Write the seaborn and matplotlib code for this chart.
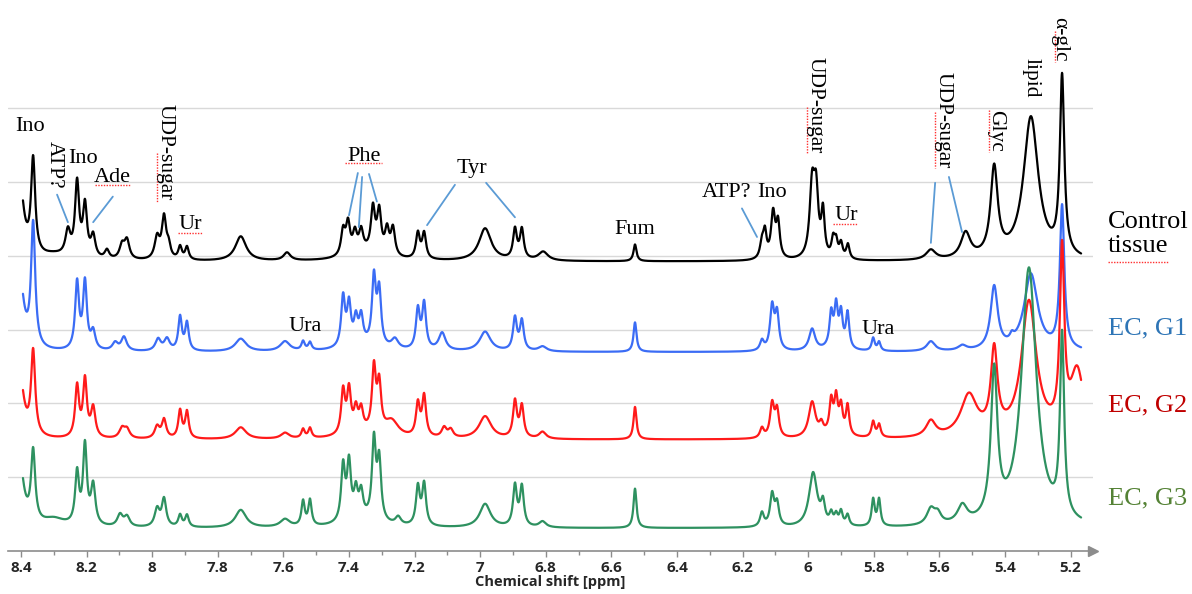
import numpy as np
import pandas as pd
import matplotlib
matplotlib.use("Agg")
import matplotlib.pyplot as plt
from matplotlib.ticker import MultipleLocator, FuncFormatter
import seaborn as sns

# ---------------- data ----------------
SAMPLES = ["Control tissue", "EC, G1", "EC, G2", "EC, G3"]
OFFSETS = [294, 202, 113, 23]          # vertical stacking offset of each trace (a.u.)
LINE_COLORS = ["#000000", "#3b6cf5", "#ff1a1a", "#2e9160"]
LABEL_COLORS = ["#000000", "#2e75b6", "#c00000", "#548235"]
LABEL_TEXT = ["Control\ntissue", "EC, G1", "EC, G2", "EC, G3"]

PPM_RANGE = (8.394, 5.168)

# peak lists: centre (ppm), height (a.u.), full width at half height (ppm)
CONTROL_PPM = [8.405, 8.363, 8.30, 8.257, 8.229, 8.205, 8.180, 8.138, 8.092, 8.077,
               7.985, 7.964, 7.950, 7.915, 7.894, 7.73, 7.589,
               7.418, 7.403, 7.382, 7.363, 7.327, 7.308, 7.284, 7.266, 7.35,
               7.190, 7.171, 6.985, 6.894, 6.873, 6.808, 6.528,
               6.141, 6.132, 6.107, 6.092, 5.988, 5.976, 5.955,
               5.924, 5.915, 5.900, 5.879, 5.626, 5.52, 5.433, 5.321, 5.226]
CONTROL_H = [85, 96, 5, 25, 75, 52, 22, 9, 14, 19,
             22, 42, 12, 13, 13, 25, 8,
             25, 31, 20, 21, 44, 42, 25, 28, 8,
             26, 26, 33, 30, 30, 9, 17,
             16, 25, 46, 35, 72, 62, 45,
             18, 16, 15, 15, 10, 26, 90, 145, 180]
CONTROL_W = [0.03, 0.015, 0.1, 0.018, 0.015, 0.015, 0.016, 0.016, 0.018, 0.018,
             0.018, 0.016, 0.014, 0.013, 0.013, 0.04, 0.025,
             0.015, 0.015, 0.015, 0.015, 0.015, 0.015, 0.015, 0.015, 0.12,
             0.014, 0.014, 0.045, 0.014, 0.014, 0.035, 0.011,
             0.014, 0.012, 0.015, 0.013, 0.018, 0.016, 0.012,
             0.012, 0.012, 0.012, 0.012, 0.035, 0.035, 0.026, 0.055, 0.016]

G1_PPM = [8.405, 8.363, 8.229, 8.205, 8.180, 8.113, 8.086, 7.982, 7.955, 7.915, 7.894,
          7.73, 7.595, 7.540, 7.519, 7.418, 7.400, 7.379, 7.363, 7.324, 7.308, 7.36,
          7.26, 7.190, 7.171, 7.116, 6.985, 6.894, 6.873, 6.81, 6.528,
          6.141, 6.110, 6.095, 5.988, 5.930, 5.915, 5.900, 5.880, 5.92,
          5.802, 5.784, 5.626, 5.53, 5.433, 5.379, 5.321, 5.226]
G1_H = [80, 125, 68, 68, 18, 8, 14, 12, 12, 34, 28,
        13, 10, 9, 8, 50, 41, 25, 27, 68, 55, 6,
        10, 40, 46, 18, 20, 33, 30, 5, 30,
        10, 44, 36, 22, 32, 38, 33, 36, 6,
        13, 9, 10, 5, 64, 6, 78, 145]
G1_W = [0.03, 0.015, 0.014, 0.014, 0.016, 0.02, 0.02, 0.02, 0.02, 0.013, 0.013,
        0.04, 0.035, 0.012, 0.012, 0.014, 0.014, 0.014, 0.014, 0.014, 0.014, 0.12,
        0.025, 0.014, 0.014, 0.025, 0.04, 0.014, 0.014, 0.03, 0.011,
        0.014, 0.015, 0.014, 0.022, 0.012, 0.012, 0.012, 0.012, 0.05,
        0.011, 0.011, 0.03, 0.03, 0.026, 0.014, 0.05, 0.016]

G2_PPM = [8.405, 8.363, 8.229, 8.205, 8.180, 8.092, 8.077, 7.985, 7.964, 7.915, 7.894,
          7.73, 7.595, 7.540, 7.519, 7.418, 7.400, 7.379, 7.363, 7.324, 7.308, 7.36,
          7.27, 7.190, 7.171, 7.11, 7.09, 6.985, 6.894, 6.873, 6.81, 6.528,
          6.141, 6.110, 6.095, 5.988, 5.96, 5.930, 5.915, 5.900, 5.880, 5.92,
          5.802, 5.784, 5.626, 5.51, 5.433, 5.327, 5.226, 5.18]
G2_H = [70, 85, 52, 58, 30, 10, 9, 12, 19, 28, 27,
        12, 6, 9, 10, 44, 43, 22, 21, 64, 47, 6,
        16, 33, 41, 10, 8, 23, 37, 32, 7, 33,
        10, 34, 27, 36, 10, 30, 32, 26, 30, 8,
        16, 13, 16, 42, 83, 137, 178, 65]
G2_W = [0.03, 0.015, 0.014, 0.014, 0.016, 0.02, 0.02, 0.018, 0.016, 0.013, 0.013,
        0.04, 0.03, 0.012, 0.012, 0.014, 0.014, 0.014, 0.014, 0.014, 0.014, 0.12,
        0.05, 0.014, 0.014, 0.018, 0.018, 0.045, 0.014, 0.014, 0.025, 0.011,
        0.014, 0.015, 0.014, 0.025, 0.014, 0.012, 0.012, 0.012, 0.012, 0.05,
        0.012, 0.012, 0.035, 0.06, 0.024, 0.055, 0.016, 0.05]

G3_PPM = [8.405, 8.363, 8.30, 8.229, 8.205, 8.180, 8.098, 8.077, 7.985, 7.964, 7.915, 7.894,
          7.73, 7.595, 7.540, 7.519, 7.418, 7.400, 7.379, 7.363, 7.324, 7.308, 7.36,
          7.25, 7.190, 7.171, 6.985, 6.894, 6.873, 6.81, 6.528,
          6.141, 6.110, 6.095, 5.985, 5.955, 5.930, 5.915, 5.900, 5.880,
          5.802, 5.784, 5.626, 5.605, 5.53, 5.433, 5.327, 5.226]
G3_H = [70, 72, 8, 52, 80, 40, 12, 10, 18, 28, 12, 12,
        18, 8, 25, 26, 56, 57, 27, 25, 80, 60, 8,
        8, 39, 42, 24, 41, 40, 6, 40,
        14, 32, 22, 55, 20, 11, 10, 14, 11,
        27, 27, 16, 10, 18, 150, 262, 183]
G3_W = [0.03, 0.015, 0.08, 0.014, 0.014, 0.016, 0.02, 0.02, 0.018, 0.016, 0.013, 0.013,
        0.04, 0.035, 0.012, 0.012, 0.014, 0.014, 0.014, 0.014, 0.014, 0.014, 0.12,
        0.02, 0.014, 0.014, 0.04, 0.014, 0.014, 0.025, 0.011,
        0.014, 0.015, 0.014, 0.03, 0.014, 0.012, 0.012, 0.012, 0.012,
        0.011, 0.011, 0.03, 0.025, 0.035, 0.024, 0.055, 0.015]

PEAKS = [(CONTROL_PPM, CONTROL_H, CONTROL_W), (G1_PPM, G1_H, G1_W),
         (G2_PPM, G2_H, G2_W), (G3_PPM, G3_H, G3_W)]

# annotations: (text, ppm, intensity, rotation)
ANNOTATIONS = [("Ino", 8.373, 431, 0), ("ATP?", 8.299, 392, 270), ("Ino", 8.211, 399, 0),
               ("Ade", 8.123, 379, 0), ("UDP-sugar", 7.961, 405, 270), ("Ur", 7.885, 332, 0),
               ("Phe", 7.354, 401, 0), ("Tyr", 7.025, 389, 0), ("Ura", 7.534, 228, 0),
               ("Fum", 6.528, 327, 0), ("ATP?", 6.248, 364, 0), ("Ino", 6.110, 364, 0),
               ("UDP-sugar", 5.979, 453, 270), ("Ur", 5.885, 341, 0), ("Ura", 5.787, 225, 0),
               ("UDP-sugar", 5.589, 438, 270), ("Glyc", 5.430, 427, 270),
               ("lipid", 5.321, 481, 270), ("α-glc", 5.232, 520, 270)]
# leader lines (ppm0, y0, ppm1, y1)
LEADERS = [(8.290, 362, 8.257, 334), (8.120, 360, 8.180, 334),
           (7.373, 384, 7.400, 341), (7.360, 380, 7.370, 329), (7.339, 383, 7.315, 355),
           (7.077, 372, 7.162, 331), (6.982, 374, 6.894, 339),
           (6.202, 348, 6.156, 319), (5.613, 374, 5.626, 313), (5.571, 380, 5.531, 324)]
# red spell-check squiggles seen under some words (ppm0, y0, ppm1, y1)
SQUIGGLES = [(8.174, 372, 8.068, 372), (7.921, 323, 7.848, 323), (7.412, 394, 7.299, 394),
             (5.924, 332, 5.848, 332), (5.086, 294, 4.903, 294),
             (7.985, 404, 7.985, 355), (6.004, 451, 6.004, 404), (5.613, 446, 5.613, 389),
             (5.449, 448, 5.449, 405), (5.248, 528, 5.248, 497)]
LABEL_Y = [322, 226, 148, 53]
LABEL_PPM = 5.086

# ---------------- build long-form table ----------------
ppm = np.linspace(PPM_RANGE[0], PPM_RANGE[1], 4000)
frames = []
for name, off, (c, h, w) in zip(SAMPLES, OFFSETS, PEAKS):
    c = np.asarray(c)[:, None]
    h = np.asarray(h)[:, None]
    w = np.asarray(w)[:, None]
    spec = (h / (1.0 + ((ppm[None, :] - c) / (w / 2.0)) ** 2)).sum(axis=0) + off
    frames.append(pd.DataFrame({"ppm": ppm, "intensity": spec, "sample": name}))
df = pd.concat(frames, ignore_index=True)

# ---------------- figure ----------------
sns.set_style("white")
plt.rcParams["font.family"] = ["DejaVu Sans"]
W, H = 1192, 594
fig = plt.figure(figsize=(W / 100, H / 100), dpi=100)
ax = fig.add_axes([8 / W, 43 / H, (1093 - 8) / W, 551 / H])

GRID_STEP = 75
ax.set_ylim(0, 551 * GRID_STEP / 73.83)
ax.set_xlim(8.4396, 5.1317)

for k in range(1, 7):
    ax.axhline(k * GRID_STEP, color="#d9d9d9", lw=1.0, zorder=0)

sns.lineplot(data=df, x="ppm", y="intensity", hue="sample", hue_order=SAMPLES,
             palette=dict(zip(SAMPLES, LINE_COLORS)), estimator=None, sort=False,
             legend=False, lw=1.6, ax=ax, zorder=3)
ax.set_xlim(8.4396, 5.1317)

for sp in ("left", "top", "right"):
    ax.spines[sp].set_visible(False)
ax.spines["bottom"].set_color("#8c8c8c")
ax.spines["bottom"].set_linewidth(1.2)
ax.plot([1.0], [0], marker=">", markersize=7, color="#8c8c8c", transform=ax.transAxes,
        clip_on=False)

ax.set_yticks([])
ax.xaxis.set_major_locator(MultipleLocator(0.2))
ax.xaxis.set_minor_locator(MultipleLocator(0.1))
ax.xaxis.set_major_formatter(FuncFormatter(lambda v, p: f"{round(v, 2):g}"))
ax.tick_params(axis="x", which="both", direction="out", color="#8c8c8c", width=1,
               bottom=True)
ax.tick_params(axis="x", which="major", length=4, pad=3, labelsize=11)
ax.tick_params(axis="x", which="minor", length=3)
for lab in ax.get_xticklabels():
    lab.set_fontweight("bold")
    lab.set_fontfamily("Open Sans")
ax.set_xlabel("Chemical shift [ppm]", fontsize=10.5, fontweight="bold",
              fontfamily="Open Sans", labelpad=0)
ax.set_ylabel("")

SERIF = "Liberation Serif"
for txt, x, y, rot in ANNOTATIONS:
    ax.text(x, y, txt, rotation=rot, ha="center", va="center", fontsize=16 if rot == 0 else 15.5,
            family=SERIF, color="black", zorder=5, clip_on=False)
for x0, y0, x1, y1 in LEADERS:
    ax.plot([x0, x1], [y0, y1], color="#5b9bd5", lw=1.3, zorder=4)
for x0, y0, x1, y1 in SQUIGGLES:
    ax.plot([x0, x1], [y0, y1], color="#ff3030", lw=1.0, ls=(0, (1, 1)), zorder=4,
            clip_on=False)
for txt, y, col in zip(LABEL_TEXT, LABEL_Y, LABEL_COLORS):
    ax.text(LABEL_PPM, y, txt, ha="left", va="center", fontsize=19, family=SERIF,
            color=col, clip_on=False, linespacing=1.15)

fig.savefig("out.png", dpi=100)
